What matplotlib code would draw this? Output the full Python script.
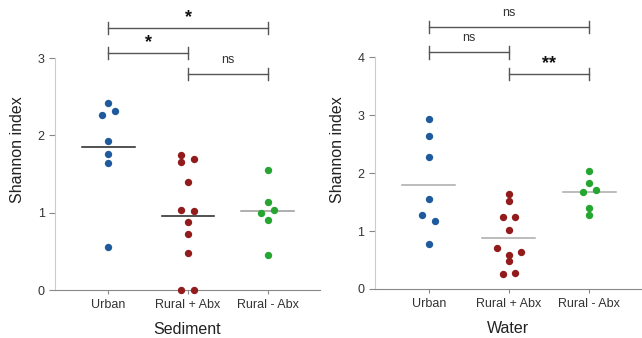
import matplotlib.pyplot as plt

plt.rcParams['font.family'] = ['Liberation Sans', 'DejaVu Sans']

groups = ["Urban", "Rural + Abx", "Rural - Abx"]
colors = ["#1f5b9c", "#921b1b", "#25a631"]

# Sediment
sed_urban = [2.42, 2.32, 2.26, 1.93, 1.76, 1.64, 0.56]
sed_rural_abx = [1.74, 1.65, 1.69, 1.40, 1.04, 1.02, 0.88, 0.72, 0.48, 0.0, 0.0]
sed_rural_noabx = [1.55, 1.14, 1.00, 1.04, 0.91, 0.45]
sed_medians = [1.85, 0.96, 1.02]

# Water
wat_urban = [2.94, 2.64, 2.28, 1.55, 1.27, 1.18, 0.78]
wat_rural_abx = [1.63, 1.52, 1.25, 1.25, 1.02, 0.70, 0.63, 0.59, 0.48, 0.26, 0.27]
wat_rural_noabx = [2.04, 1.82, 1.68, 1.70, 1.39, 1.27]
wat_medians = [1.80, 0.88, 1.68]

# horizontal jitter of the dots (category units)
sed_dx = [[0, 0.08, -0.08, 0, 0, 0, 0],
          [-0.09, -0.09, 0.07, 0, -0.09, 0.07, 0, 0, 0, -0.09, 0.07],
          [0, 0, -0.09, 0.08, 0, 0]]
wat_dx = [[0, 0, 0, 0, -0.08, 0.08, 0],
          [0, 0, -0.08, 0.08, 0, -0.15, 0.15, 0, 0, -0.08, 0.08],
          [0, 0, -0.08, 0.08, 0, 0]]

sed_median_colors = ["#222222", "#222222", "#999999"]
wat_median_colors = ["#aaaaaa", "#aaaaaa", "#aaaaaa"]

# comparisons: (i, j, height, label)
sed_brackets = [(0, 2, 3.39, "*"), (0, 1, 3.07, "*"), (1, 2, 2.79, "ns")]
wat_brackets = [(0, 2, 4.52, "ns"), (0, 1, 4.08, "ns"), (1, 2, 3.71, "**")]


def draw_panel(ax, data, dx, medians, med_colors, brackets, ymax, ytop, xlabel):
    for i, vals in enumerate(data):
        xs = [i + d for d in dx[i]]
        ax.scatter(xs, vals, s=28, color=colors[i], zorder=3, clip_on=False,
                   linewidths=0)
        ax.plot([i - 0.33, i + 0.33], [medians[i], medians[i]],
                color=med_colors[i], lw=1.1, zorder=2)
    tick_h = ytop * 0.022
    for i, j, h, lab in brackets:
        c = "#555555"
        ax.plot([i, j], [h, h], color=c, lw=1.0, clip_on=False)
        ax.plot([i, i], [h - tick_h, h + tick_h], color=c, lw=1.0, clip_on=False)
        ax.plot([j, j], [h - tick_h, h + tick_h], color=c, lw=1.0, clip_on=False)
        if lab == "ns":
            ax.text((i + j) / 2, h + ytop * 0.03, lab, ha="center", va="bottom",
                    fontsize=9, color="#333333")
        else:
            ax.text((i + j) / 2, h + ytop * 0.005, lab, ha="center", va="bottom",
                    fontsize=13, fontweight="bold", color="#111111")
    ax.set_xlim(-0.67, 2.65)
    ax.set_ylim(0, ytop)
    ax.set_xticks(range(3))
    ax.set_xticklabels(groups, fontsize=9, color="#333333")
    ax.set_yticks(range(ymax + 1))
    ax.tick_params(axis="y", labelsize=9, colors="#888888", labelcolor="#333333",
                   length=4)
    ax.tick_params(axis="x", colors="#888888", labelcolor="#333333", length=3)
    for s in ["top", "right"]:
        ax.spines[s].set_visible(False)
    ax.spines["left"].set_bounds(0, ymax)
    ax.spines["left"].set_color("#cccccc")
    ax.spines["bottom"].set_color("#888888")
    ax.set_ylabel("Shannon index", fontsize=11.5, color="#222222", labelpad=9)
    ax.set_xlabel(xlabel, fontsize=11.5, color="#222222", labelpad=8)


fig = plt.figure(figsize=(6.42, 3.38), dpi=100)
ax1 = fig.add_axes([0.0857, 0.142, 0.412, 0.828])
ax2 = fig.add_axes([0.584, 0.145, 0.415, 0.825])

draw_panel(ax1, [sed_urban, sed_rural_abx, sed_rural_noabx], sed_dx, sed_medians,
           sed_median_colors, sed_brackets, 3, 3.62, "Sediment")
draw_panel(ax2, [wat_urban, wat_rural_abx, wat_rural_noabx], wat_dx, wat_medians,
           wat_median_colors, wat_brackets, 4, 4.81, "Water")

fig.savefig("out.png", dpi=100)
